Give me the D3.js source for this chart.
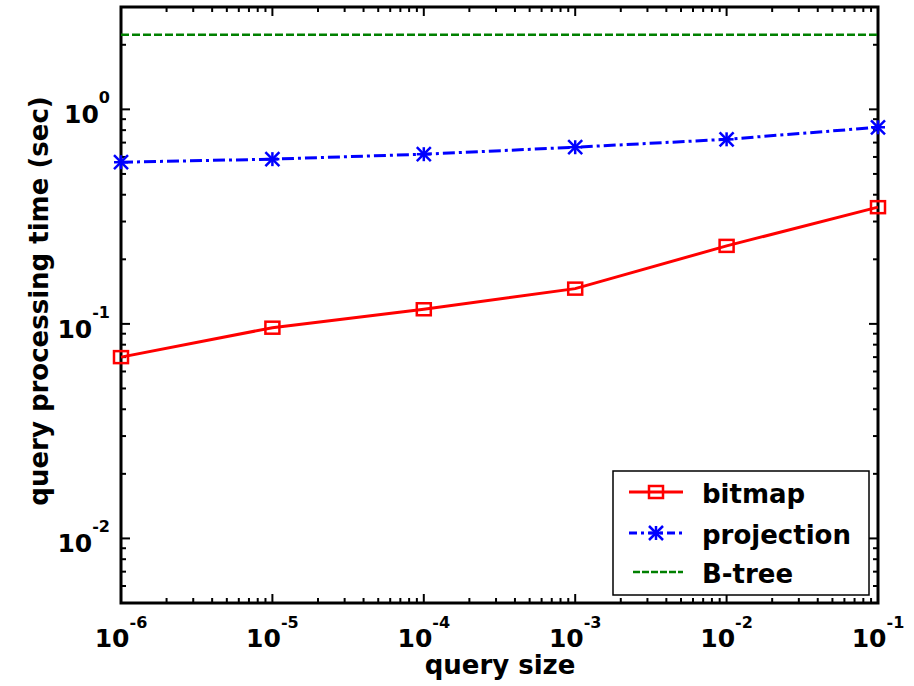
<!DOCTYPE html>
<html>
<head>
<meta charset="utf-8">
<script src="https://cdn.jsdelivr.net/npm/d3@7"></script>
<style>
  body { margin: 0; background: #fff; }
  svg { display: block; font-family: "DejaVu Sans", "Liberation Sans", Arial, sans-serif; font-weight: bold; }
</style>
</head>
<body>
<svg id="chart" width="914" height="686"></svg>
<script>
// query sizes (x) and timings (sec)
var querySizes = [1e-6, 1e-5, 1e-4, 1e-3, 1e-2, 1e-1];
var bitmapTimes = [0.070, 0.096, 0.117, 0.146, 0.231, 0.350];
var projectionTimes = [0.567, 0.586, 0.618, 0.666, 0.725, 0.825];
var btreeTimes = [2.23, 2.23, 2.23, 2.23, 2.23, 2.23];
var xTickExps = [-6, -5, -4, -3, -2, -1];
var yTickExps = [-2, -1, 0];
var seriesNames = ["bitmap", "projection", "B-tree"];

var svg = d3.select("#chart");
var plotL = 121, plotR = 878, plotT = 7, plotB = 603;

var x = d3.scaleLog().domain([1e-6, 1e-1]).range([plotL, plotR]);
var y = d3.scaleLog().domain([0.005, 3]).range([plotB, plotT]);

// minor ticks for log axes
function minorTicks(scale) {
    var d = scale.domain(), out = [];
    var lo = Math.floor(Math.log10(d[0])), hi = Math.ceil(Math.log10(d[1]));
    for (var e = lo; e <= hi; e++) {
        for (var m = 1; m < 10; m++) {
            var v = m * Math.pow(10, e);
            if (v >= d[0] * 0.999 && v <= d[1] * 1.001) out.push({v: v, major: m === 1});
        }
    }
    return out;
}

var ticksG = svg.append("g").attr("stroke", "#000").attr("stroke-width", 2);

// x ticks (bottom and top, pointing inward)
minorTicks(x).forEach(function(t) {
    var len = t.major ? 9 : 5, px = x(t.v);
    ticksG.append("line").attr("x1", px).attr("x2", px).attr("y1", plotB).attr("y2", plotB - len);
    ticksG.append("line").attr("x1", px).attr("x2", px).attr("y1", plotT).attr("y2", plotT + len);
});
// y ticks (left and right)
minorTicks(y).forEach(function(t) {
    var len = t.major ? 9 : 5, py = y(t.v);
    ticksG.append("line").attr("y1", py).attr("y2", py).attr("x1", plotL).attr("x2", plotL + len);
    ticksG.append("line").attr("y1", py).attr("y2", py).attr("x1", plotR).attr("x2", plotR - len);
});

// frame
svg.append("rect")
    .attr("x", plotL).attr("y", plotT)
    .attr("width", plotR - plotL).attr("height", plotB - plotT)
    .attr("fill", "none").attr("stroke", "#000").attr("stroke-width", 3);

// tick labels
xTickExps.forEach(function(e) {
    var t = svg.append("text")
        .attr("x", x(Math.pow(10, e))).attr("y", 647)
        .attr("text-anchor", "middle")
        .style("font-size", "25px");
    t.append("tspan").text("10");
    t.append("tspan").attr("dy", -19).style("font-size", "16px").text(e);
});
yTickExps.forEach(function(e) {
    var t = svg.append("text")
        .attr("x", 110).attr("y", y(Math.pow(10, e)) + 14)
        .attr("text-anchor", "end")
        .style("font-size", "25px");
    t.append("tspan").text("10");
    t.append("tspan").attr("dy", -20).style("font-size", "16px").text(e);
});

// axis titles
svg.append("text")
    .attr("x", 500).attr("y", 674)
    .attr("text-anchor", "middle")
    .style("font-size", "26px")
    .text("query size");
svg.append("text")
    .attr("transform", "translate(48,301) rotate(-90)")
    .attr("text-anchor", "middle")
    .style("font-size", "26px")
    .text("query processing time (sec)");

var line = d3.line()
    .x(function(d) { return x(d[0]); })
    .y(function(d) { return y(d[1]); });

function pairs(vals) {
    return querySizes.map(function(q, i) { return [q, vals[i]]; });
}

var plot = svg.append("g");

// B-tree
plot.append("path")
    .attr("d", line(pairs(btreeTimes)))
    .attr("fill", "none").attr("stroke", "#008000").attr("stroke-width", 2.5)
    .attr("stroke-dasharray", "8,3");

// projection
plot.append("path")
    .attr("d", line(pairs(projectionTimes)))
    .attr("fill", "none").attr("stroke", "#0000ff").attr("stroke-width", 3)
    .attr("stroke-dasharray", "12,4,3,4");

// bitmap
plot.append("path")
    .attr("d", line(pairs(bitmapTimes)))
    .attr("fill", "none").attr("stroke", "#ff0000").attr("stroke-width", 3);

function drawSquare(g, cx, cy) {
    g.append("rect")
        .attr("x", cx - 7).attr("y", cy - 6)
        .attr("width", 14).attr("height", 12)
        .attr("fill", "none").attr("stroke", "#ff0000").attr("stroke-width", 2.5);
}
function drawStar(g, cx, cy) {
    var r = 7;
    var s = g.append("g").attr("stroke", "#0000ff").attr("stroke-width", 2.5);
    s.append("line").attr("x1", cx - r).attr("x2", cx + r).attr("y1", cy - r).attr("y2", cy + r);
    s.append("line").attr("x1", cx - r).attr("x2", cx + r).attr("y1", cy + r).attr("y2", cy - r);
    s.append("line").attr("x1", cx).attr("x2", cx).attr("y1", cy - r).attr("y2", cy + r);
    s.append("line").attr("x1", cx - r).attr("x2", cx + r).attr("y1", cy).attr("y2", cy);
}

pairs(bitmapTimes).forEach(function(d) { drawSquare(plot, x(d[0]), y(d[1])); });
pairs(projectionTimes).forEach(function(d) { drawStar(plot, x(d[0]), y(d[1])); });

// legend
var lg = svg.append("g");
lg.append("rect")
    .attr("x", 613).attr("y", 471).attr("width", 256).attr("height", 124)
    .attr("fill", "#fff").attr("stroke", "#000").attr("stroke-width", 1.5);

var legY = [492, 533, 572];
lg.append("line").attr("x1", 629).attr("x2", 683).attr("y1", legY[0]).attr("y2", legY[0])
    .attr("stroke", "#ff0000").attr("stroke-width", 3);
drawSquare(lg, 656, legY[0]);
lg.append("line").attr("x1", 629).attr("x2", 683).attr("y1", legY[1]).attr("y2", legY[1])
    .attr("stroke", "#0000ff").attr("stroke-width", 3).attr("stroke-dasharray", "8,4,3,4");
drawStar(lg, 656, legY[1]);
lg.append("line").attr("x1", 633).attr("x2", 683).attr("y1", legY[2]).attr("y2", legY[2])
    .attr("stroke", "#008000").attr("stroke-width", 2.5).attr("stroke-dasharray", "7,2");

seriesNames.forEach(function(n, i) {
    lg.append("text")
        .attr("x", 702).attr("y", legY[i] + 11)
        .style("font-size", "26px")
        .text(n);
});
</script>
</body>
</html>
